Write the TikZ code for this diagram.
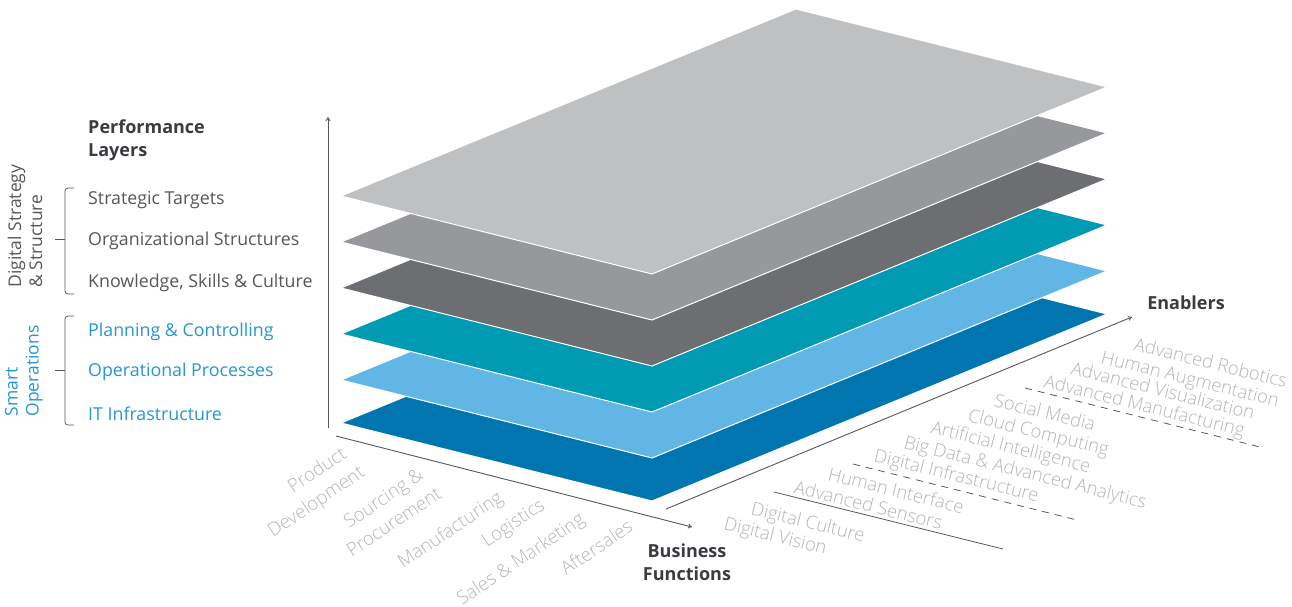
\documentclass[tikz,border=0pt]{standalone}
\usepackage{fontspec}
\setmainfont{Open Sans}
\newfontfamily\thinfont{Open Sans Light}
\usetikzlibrary{arrows.meta}

\definecolor{lyrlgray}{HTML}{BFC0C2}
\definecolor{lyrmgray}{HTML}{97989B}
\definecolor{lyrdgray}{HTML}{6C6E72}
\definecolor{lyrteal}{HTML}{009AB2}
\definecolor{lyrlblue}{HTML}{62B6E6}
\definecolor{lyrdblue}{HTML}{0075B0}
\definecolor{txtdark}{HTML}{55575B}
\definecolor{txtbold}{HTML}{3A3B40}
\definecolor{txtblue}{HTML}{2596D1}
\definecolor{txtlight}{HTML}{B4B5B8}

\begin{document}
\begin{tikzpicture}[x=1pt, y=-1pt,
    layer/.style={draw=white, line width=1pt, line join=miter},
    axis/.style={draw=txtdark, line width=0.9pt, -{To[length=4pt,width=5pt]}},
    sepline/.style={draw=txtdark, line width=0.8pt},
    brk/.style={draw=txtdark, line width=0.8pt, rounded corners=3pt},
    lyrlbl/.style={anchor=base west, inner sep=0pt, text=txtdark, font=\fontsize{17.8}{21}\selectfont},
    grplbl/.style={rotate=90, align=left, inner sep=0pt, font=\fontsize{17.5}{21}\selectfont},
    title/.style={inner sep=0pt, text=txtbold, font=\fontsize{18}{23}\selectfont\bfseries},
    fnlbl/.style={anchor=base west, rotate=34, inner sep=0pt, text=txtlight, font=\thinfont\fontsize{18.6}{21}\selectfont},
    enlbl/.style={anchor=base west, rotate=-14, inner sep=0pt, text=txtlight, font=\thinfont\fontsize{18.4}{21}\selectfont}]
    \useasboundingbox (0,0) rectangle (1292,607);
    % Layers, bottom to top
    \filldraw[layer, fill=lyrdblue] (341,423) -- (796,236) -- (1107,314) -- (652,501) -- cycle; % IT
    \filldraw[layer, fill=lyrlblue] (341,380) -- (796,193) -- (1107,271) -- (652,458) -- cycle; % Processes
    \filldraw[layer, fill=lyrteal]  (341,334) -- (796,147) -- (1107,225) -- (652,412) -- cycle; % Planning
    \filldraw[layer, fill=lyrdgray] (341,288) -- (796,101) -- (1107,179) -- (652,366) -- cycle; % Knowledge
    \filldraw[layer, fill=lyrmgray] (341,242) -- (796,55)  -- (1107,133) -- (652,320) -- cycle; % Structures
    \filldraw[layer, fill=lyrlgray] (341,196) -- (796,9)   -- (1107,87)  -- (652,274) -- cycle; % Targets
    % Axes
    \coordinate (vbot) at (328,428);
    \coordinate (vtop) at (328,117);
    \coordinate (fnstart) at (336,436);
    \coordinate (fnend) at (692,527);
    \coordinate (enstart) at (666,509);
    \coordinate (enend) at (1132,317);
    \draw[axis] (vbot) -- (vtop);
    \draw[axis] (fnstart) -- (fnend);
    \draw[axis] (enstart) -- (enend);
    % Enabler groups
    \coordinate (sepa1) at (774,492);
    \coordinate (sepa2) at (1003,549);
    \coordinate (sepb1) at (853,464);
    \coordinate (sepb2) at (1077,520);
    \coordinate (sepc1) at (1025,388);
    \coordinate (sepc2) at (1260,447);
    \draw[sepline] (sepa1) -- (sepa2);
    \draw[sepline, dash pattern=on 7pt off 6pt] (sepb1) -- (sepb2);
    \draw[sepline, dash pattern=on 7pt off 6pt] (sepc1) -- (sepc2);
    % Brackets
    \draw[brk] (74,188) -- (65,188) -- (65,294) -- (74,294);
    \draw[brk] (65,239) -- (55,239);
    \draw[brk] (74,316) -- (65,316) -- (65,425) -- (74,425);
    \draw[brk] (65,370) -- (55,370);
    % Titles
    \node[title, anchor=north west, align=left] (perf) at (88,120) {Performance\\Layers};
    \node[title, align=center] (busfn) at (687,562) {Business\\Functions};
    \node[title] (enab) at (1186,303) {Enablers};
    % Performance layers
    \node[grplbl, text=txtdark] (dss) at (25,226) {Digital Strategy\\\& Structure};
    \node[grplbl, text=txtblue] (smops) at (24,371) {Smart\\Operations};
    \node[lyrlbl] (strat) at (88,204) {Strategic Targets};
    \node[lyrlbl] (orgst) at (88,245) {Organizational Structures};
    \node[lyrlbl] (know) at (88,287) {Knowledge, Skills \& Culture};
    \node[lyrlbl, text=txtblue] (plan) at (88,336) {Planning \& Controlling};
    \node[lyrlbl, text=txtblue] (oper) at (88,376) {Operational Processes};
    \node[lyrlbl, text=txtblue] (itinf) at (88,420) {IT Infrastructure};
    % Business functions
    \node[fnlbl] (prod) at (293,494) {Product};
    \node[fnlbl] (devel) at (273,538) {Development};
    \node[fnlbl] (sourc) at (349,529) {Sourcing \&};
    \node[fnlbl] (procu) at (352,558) {Procurement};
    \node[fnlbl] (manuf) at (403,569) {Manufacturing};
    \node[fnlbl] (logis) at (487,548) {Logistics};
    \node[fnlbl] (sales) at (462,606) {Sales \& Marketing};
    \node[fnlbl] (after) at (566,576) {Aftersales};
    % Enablers
    \node[enlbl] (dvis) at (723,529) {Digital Vision};
    \node[enlbl] (dcult) at (750,514) {Digital Culture};
    \node[enlbl] (sens) at (793,493) {Advanced Sensors};
    \node[enlbl] (hint) at (827,480) {Human Interface};
    \node[enlbl] (dinf) at (873,461) {Digital Infrastructure};
    \node[enlbl] (bigd) at (903,448) {Big Data \& Advanced Analytics};
    \node[enlbl] (ai) at (930,433) {Artificial Intelligence};
    \node[enlbl] (cloud) at (967,421) {Cloud Computing};
    \node[enlbl] (social) at (993,406) {Social Media};
    \node[enlbl] (amanu) at (1043,387) {Advanced Manufacturing};
    \node[enlbl] (avis) at (1070,374) {Advanced Visualization};
    \node[enlbl] (haug) at (1100,363) {Human Augmentation};
    \node[enlbl] (arob) at (1133,350) {Advanced Robotics};
\end{tikzpicture}
\end{document}
